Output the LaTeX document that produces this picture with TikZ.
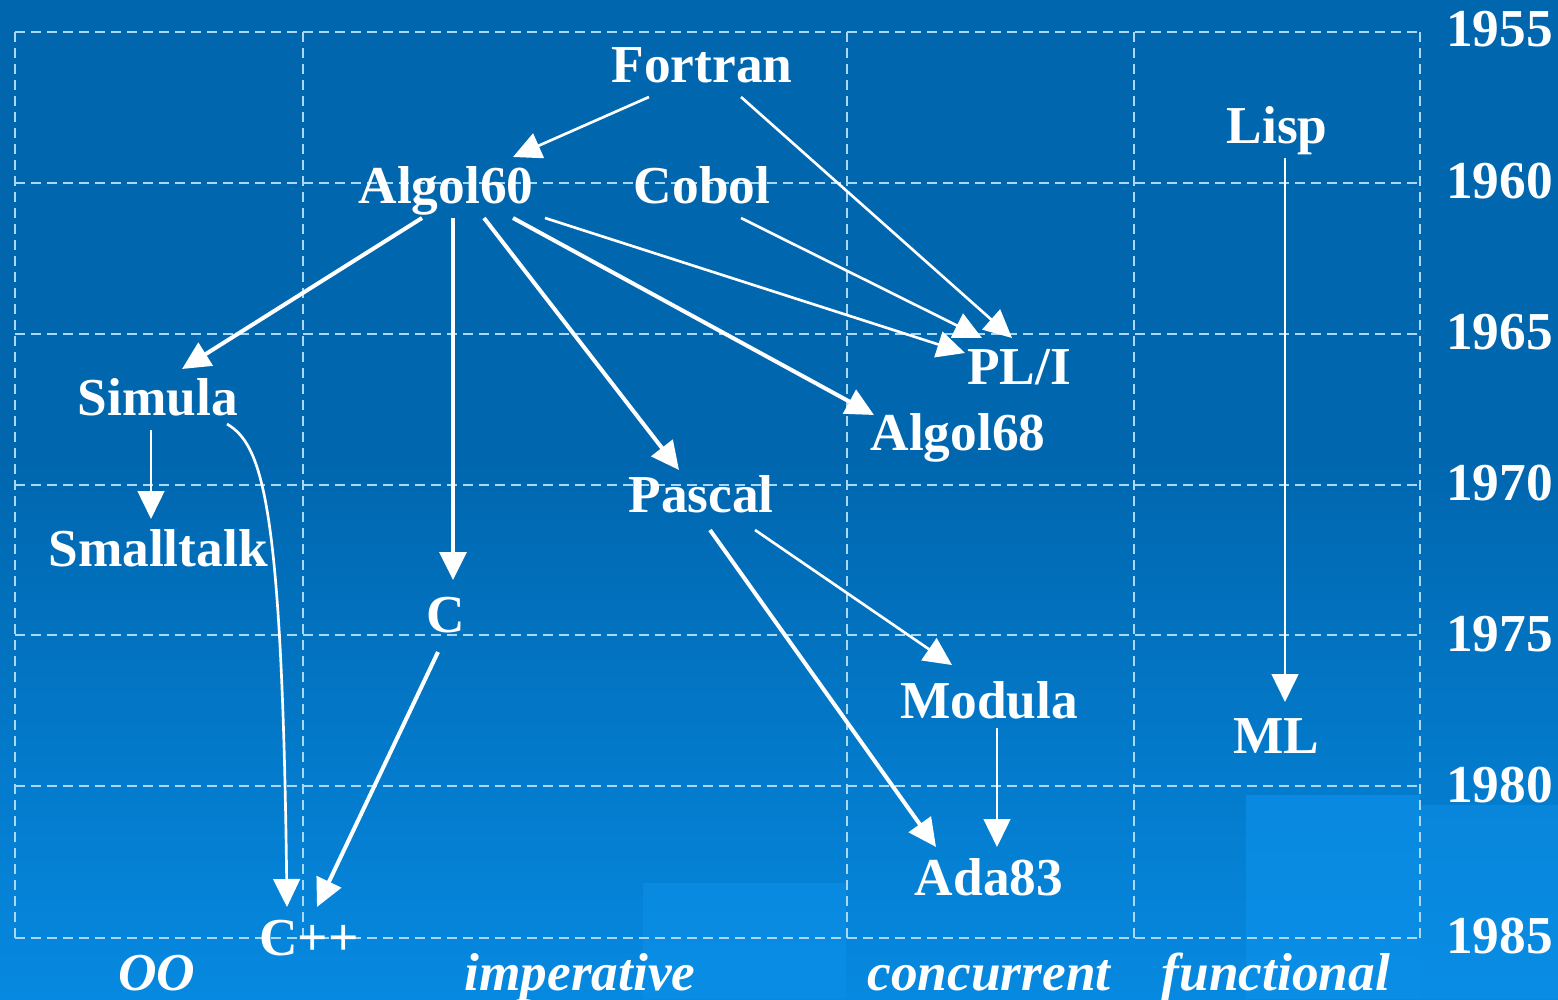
\documentclass[tikz,border=0pt]{standalone}
\usepackage{fontspec}
\setmainfont{Liberation Serif}
\usepackage{tikz}
\usetikzlibrary{calc}
\usetikzlibrary{arrows.meta}
\definecolor{bgtop}{HTML}{0066AE}
\definecolor{bgbot}{HTML}{0689E0}
\definecolor{bglight}{HTML}{0C90E8}
\definecolor{gridblue}{HTML}{A8D8FA}
\tikzset{lang/.style={font=\bfseries\fontsize{40}{48}\selectfont,text=white,inner sep=0pt,anchor=base},
    family/.style={font=\bfseries\itshape\fontsize{40}{48}\selectfont,text=white,inner sep=0pt,anchor=base},
    thinarr/.style={draw=white,line width=2pt,-{Triangle[length=21pt,width=20pt]}},
    thickarr/.style={draw=white,line width=3pt,-{Triangle[length=21pt,width=20pt]}},
    gridline/.style={draw=gridblue,line width=1.8pt,dash pattern=on 7.5pt off 4.5pt}}

\begin{document}
\begin{tikzpicture}[x=0.75pt,y=0.75pt,yscale=-1,xscale=1]
\useasboundingbox (0,0) rectangle (1558,999);

%Shape: Background
\fill[bgtop] (0,0) rectangle (1558,452);
\shade[top color=bgtop,bottom color=bgbot] (0,450) rectangle (1558,999);
\fill[bglight,opacity=0.6] (643,883) rectangle (846,999);
\fill[bglight,opacity=0.7] (1246,795) rectangle (1420,999);
\fill[bglight,opacity=0.5] (1420,805) rectangle (1558,999);

%Shape: Grid
\foreach \gx in {15,303,847,1134,1420}
  \draw[gridline] (\gx,32) -- (\gx,938);
\foreach \gy in {32,183,334,485,635,786,938}
  \draw[gridline] (15,\gy) -- (1420,\gy);

% Year Nodes
\foreach \yr [count=\i from 0] in {1955,1960,1965,1970,1975,1980,1985}{
  \pgfmathsetmacro{\yy}{47+151*\i}
  \node[lang,anchor=base east] (yr\i) at (1553,\yy) {\yr};
}

% Text Node
\node[lang] (fortran) at (702,82) {Fortran};
\node[lang] (algolsixty) at (446,203) {Algol60};
\node[lang] (cobol) at (702,203) {Cobol};
\node[lang] (lisp) at (1277,143) {Lisp};
\node[lang] (pli) at (1019,384) {PL/I};
\node[lang] (algolsixtyeight) at (958,450) {Algol68};
\node[lang] (simula) at (158,415) {Simula};
\node[lang] (pascal) at (701,512) {Pascal};
\node[lang] (smalltalk) at (158,566) {Smalltalk};
\node[lang] (clang) at (446,632) {C};
\node[lang] (modula) at (989,718) {Modula};
\node[lang] (ml) at (1276,753) {ML};
\node[lang] (ada) at (989,895) {Ada83};
\node[lang] (cpp) at (309,955) {C++};

% Column Labels
\node[family] (oo) at (157,990) {OO};
\node[family] (imperative) at (580,990) {imperative};
\node[family] (concurrent) at (989,990) {concurrent};
\node[family] (functional) at (1276,990) {functional};

%Straight Lines
\draw[thinarr] ($(fortran.base)+(-53,15)$) -- ($(algolsixty.base)+(67,-46)$);
\draw[thinarr] ($(fortran.base)+(39,15)$) -- ($(pli.base)+(-7,-46)$);
\draw[thinarr] ($(cobol.base)+(39,15)$) -- ($(pli.base)+(-37,-46)$);
\draw[thinarr] ($(algolsixty.base)+(99,15)$) -- ($(pli.base)+(-54,-31)$);
\draw[thickarr] ($(algolsixty.base)+(67,15)$) -- ($(algolsixtyeight.base)+(-84,-35)$);
\draw[thickarr] ($(algolsixty.base)+(38,15)$) -- ($(pascal.base)+(-22,-42)$);
\draw[thickarr] ($(algolsixty.base)+(7,15)$) -- ($(clang.base)+(7,-52)$);
\draw[thickarr] ($(algolsixty.base)+(-24,15)$) -- ($(simula.base)+(24,-46)$);
\draw[thinarr] ($(lisp.base)+(8,15)$) -- ($(ml.base)+(9,-51)$);
\draw[thinarr] ($(simula.base)+(-7,15)$) -- ($(smalltalk.base)+(-7,-47)$);
\draw[thickarr] ($(clang.base)+(-8,20)$) -- ($(cpp.base)+(8,-48)$);
\draw[thickarr] ($(pascal.base)+(9,18)$) -- ($(ada.base)+(-53,-48)$);
\draw[thinarr] ($(pascal.base)+(54,18)$) -- ($(modula.base)+(-37,-53)$);
\draw[thinarr] ($(modula.base)+(8,10)$) -- ($(ada.base)+(8,-48)$);
%Curve Lines
\draw[thinarr] ($(simula.base)+(69,9)$) .. controls +(35,21) and +(-5,-407) .. ($(cpp.base)+(-22,-48)$);

\end{tikzpicture}
\end{document}
